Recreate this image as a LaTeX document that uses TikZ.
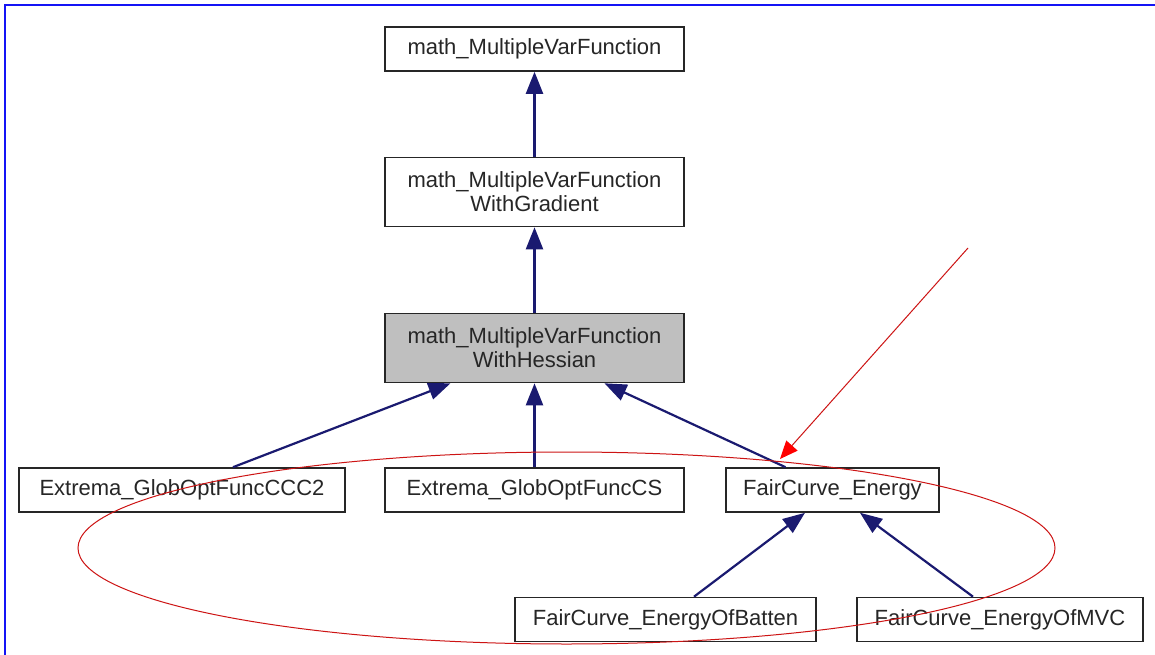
\documentclass[tikz,border=0pt]{standalone}
\usepackage{fontspec}
\setmainfont{Liberation Sans}
\usetikzlibrary{arrows.meta,calc}

\definecolor{edgeblue}{RGB}{26,26,112}
\definecolor{classgray}{RGB}{191,191,191}
\definecolor{markred}{RGB}{205,20,20}
\definecolor{framblue}{RGB}{20,20,245}

\tikzset{
  classbox/.style={draw=black!85, line width=1.6bp, fill=white, inner sep=0pt,
    align=center, minimum height=44bp, text=black!85,
    font=\fontsize{22bp}{24bp}\selectfont},
  tallbox/.style={classbox, minimum height=69bp},
  basebox/.style={fill=classgray},
  inherit/.style={draw=edgeblue, line width=2.2bp,
    -{Triangle[length=22bp,width=17bp,fill=edgeblue]}},
  marker/.style={draw=markred, line width=1bp},
}

\begin{document}
\begin{tikzpicture}[x=1bp,y=-1bp]
  \useasboundingbox (0,0) rectangle (1155,655);
  \clip (0,0) rectangle (1155,655);
  \fill[white] (0,0) rectangle (1155,655);

  % window frame
  \draw[framblue, line width=2.2bp] (5,700) -- (5,5) -- (1200,5);

  % class boxes
  \node[classbox, minimum width=299bp] (mvf)    at (534.5,49)  {math\_MultipleVarFunction};
  \node[tallbox,  minimum width=299bp] (grad)   at (534.5,192) {math\_MultipleVarFunction\\WithGradient};
  \node[tallbox, basebox, minimum width=299bp] (hess) at (534.5,348) {math\_MultipleVarFunction\\WithHessian};
  \node[classbox, minimum width=326bp] (ccc2)   at (182,490)   {Extrema\_GlobOptFuncCCC2};
  \node[classbox, minimum width=299bp] (cs)     at (534.5,490) {Extrema\_GlobOptFuncCS};
  \node[classbox, minimum width=213bp] (energy) at (832.5,490) {FairCurve\_Energy};
  \node[classbox, minimum width=301bp] (batten) at (665.5,619.5) {FairCurve\_EnergyOfBatten};
  \node[classbox, minimum width=286bp] (mvc)    at (1000,619.5) {FairCurve\_EnergyOfMVC};

  % inheritance edges
  \draw[inherit] (grad.north) -- (mvf.south);
  \draw[inherit] (hess.north) -- (grad.south);
  \draw[inherit] ($(ccc2.north)+(51,0)$) -- ($(hess.south)+(-84,0)$);
  \draw[inherit] (cs.north) -- (hess.south);
  \draw[inherit] ($(energy.north)+(-47,0)$) -- ($(hess.south)+(70,0)$);
  \draw[inherit] ($(batten.north)+(28.5,0)$) -- ($(energy.south)+(-27.5,0)$);
  \draw[inherit] ($(mvc.north)+(-27,0)$) -- ($(energy.south)+(27.5,0)$);

  % red annotation: ellipse round the lower classes and a pointer
  \draw[marker] (566.5,548) ellipse [x radius=488.5bp, y radius=96bp];
  \coordinate (pointfrom) at (968,248);
  \coordinate (pointto) at (780,459);
  \draw[marker, -{Triangle[length=18bp,width=15bp,fill=red,color=red]}] (pointfrom) -- (pointto);
\end{tikzpicture}
\end{document}
